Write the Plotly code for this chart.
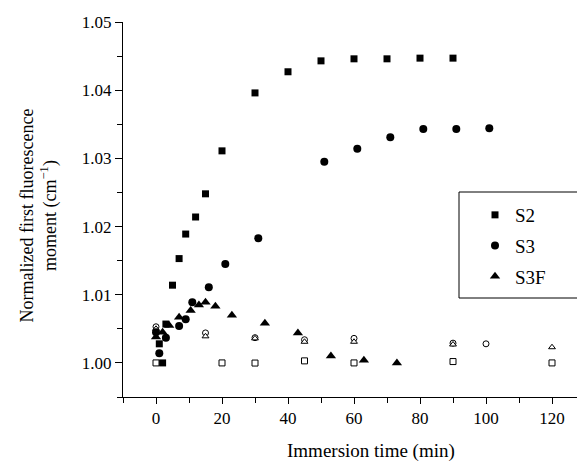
import plotly.graph_objects as go

# Filled series
s2_x = [1, 2, 3, 5, 7, 9, 12, 15, 20, 30, 40, 50, 60, 70, 80, 90]
s2_y = [1.0028, 1.0000, 1.0057, 1.0114, 1.0153, 1.0189, 1.0214, 1.0248, 1.0311,
        1.0396, 1.0427, 1.0443, 1.0446, 1.0446, 1.0447, 1.0447]

s3_x = [0, 1, 3, 7, 9, 11, 16, 21, 31, 51, 61, 71, 81, 91, 101]
s3_y = [1.0045, 1.0014, 1.0037, 1.0054, 1.0064, 1.0089, 1.0111, 1.0145, 1.0183,
        1.0295, 1.0314, 1.0331, 1.0343, 1.0343, 1.0344]

s3f_x = [0, 2, 4, 7, 10.5, 13, 15, 18, 23, 33, 43, 53, 63, 73]
s3f_y = [1.0038, 1.0045, 1.0055, 1.0067, 1.0077, 1.0085, 1.0089, 1.0083, 1.0070,
         1.0058, 1.0044, 1.0010, 1.0004, 1.0000]

# Open (reference) series
ref_sq_x = [0, 20, 30, 45, 60, 90, 120]
ref_sq_y = [1.0000, 1.0000, 0.99998, 1.0003, 1.0000, 1.0002, 1.0000]
ref_ci_x = [0, 15, 30, 45, 60, 90, 100, 130]
ref_ci_y = [1.0053, 1.0044, 1.0037, 1.0034, 1.0036, 1.0029, 1.0028, 1.0028]
ref_tr_x = [0, 15, 30, 45, 60, 90, 120]
ref_tr_y = [1.0050, 1.0039, 1.0036, 1.0031, 1.0031, 1.0027, 1.0023]

x_ticks = [0, 20, 40, 60, 80, 100, 120]
y_ticks = [1.00, 1.01, 1.02, 1.03, 1.04, 1.05]

FONT = "Liberation Serif, Times New Roman, Times, DejaVu Serif, serif"

# page body has an 8px margin: figure is drawn 8px right/down
OFF = 8
W, H = 585 - OFF, 462 - OFF
L, T, B = 123 - OFF, 22 - OFF, 65
PW, PH = W - L, H - T - B

fig = go.Figure()

open_style = dict(color="white", size=6, line=dict(color="black", width=1))
for xs, ys, sym in [(ref_sq_x, ref_sq_y, "square"),
                    (ref_ci_x, ref_ci_y, "circle"),
                    (ref_tr_x, ref_tr_y, "triangle-up")]:
    fig.add_trace(go.Scatter(x=xs, y=ys, mode="markers", showlegend=False,
                             marker=dict(symbol=sym, **open_style)))

for name, xs, ys, sym, sz, grp in [("S2", s2_x, s2_y, "square", 7, "a"),
                                   ("S3", s3_x, s3_y, "circle", 8, "b"),
                                   ("S3F", s3f_x, s3f_y, "triangle-up", 9, "c")]:
    fig.add_trace(go.Scatter(x=xs, y=ys, mode="markers", name=name, legendgroup=grp,
                             marker=dict(symbol=sym, size=sz, color="black",
                                         line=dict(width=0))))

def px_x(p):  # page pixel -> paper x
    return (p - OFF - L) / PW

def px_y(p):  # page pixel -> paper y
    return 1 - (p - OFF - T) / PH

fig.add_shape(type="rect", xref="paper", yref="paper",
              x0=px_x(459), x1=px_x(578), y0=px_y(298), y1=px_y(192),
              line=dict(color="black", width=1), fillcolor="rgba(0,0,0,0)")

fig.update_layout(
    width=W, height=H,
    margin=dict(l=L, r=0, t=T, b=B),
    paper_bgcolor="white", plot_bgcolor="white",
    font=dict(family=FONT, size=17, color="black"),
    legend=dict(x=px_x(475), y=px_y(196), xanchor="left", yanchor="top",
                bgcolor="rgba(0,0,0,0)", borderwidth=0,
                font=dict(family=FONT, size=19, color="black"),
                tracegroupgap=3, itemwidth=30),
    xaxis=dict(range=[-10, 130], tickvals=x_ticks, ticks="outside", ticklen=6,
               tickcolor="black", showline=True, linecolor="black", linewidth=1,
               showgrid=False, zeroline=False,
               tickfont=dict(family=FONT, size=17, color="black"),
               minor=dict(dtick=10, tick0=0, ticks="outside", ticklen=5, tickcolor="black")),
    yaxis=dict(range=[0.995, 1.05], tickvals=y_ticks, tickformat=".2f", ticks="outside",
               ticklen=7, tickcolor="black", showline=True, linecolor="black", linewidth=1,
               showgrid=False, zeroline=False,
               tickfont=dict(family=FONT, size=17, color="black"),
               minor=dict(dtick=0.005, tick0=1.0, ticks="outside", ticklen=5, tickcolor="black")),
)

fig.add_annotation(text="Immersion time (min)", xref="x", x=65, yref="paper", y=0,
                   yshift=-54, xanchor="center", yanchor="middle", showarrow=False,
                   font=dict(family=FONT, size=19, color="black"))
fig.add_annotation(text="Normalized first fluorescence<br>moment (cm<sup>\u22121</sup>)",
                   xref="paper", x=0, xshift=-(123 - 38), yref="paper", y=0.5, yshift=-6,
                   xanchor="center", yanchor="middle", textangle=-90, showarrow=False,
                   font=dict(family=FONT, size=18, color="black"))

fig.write_html("out.html")
